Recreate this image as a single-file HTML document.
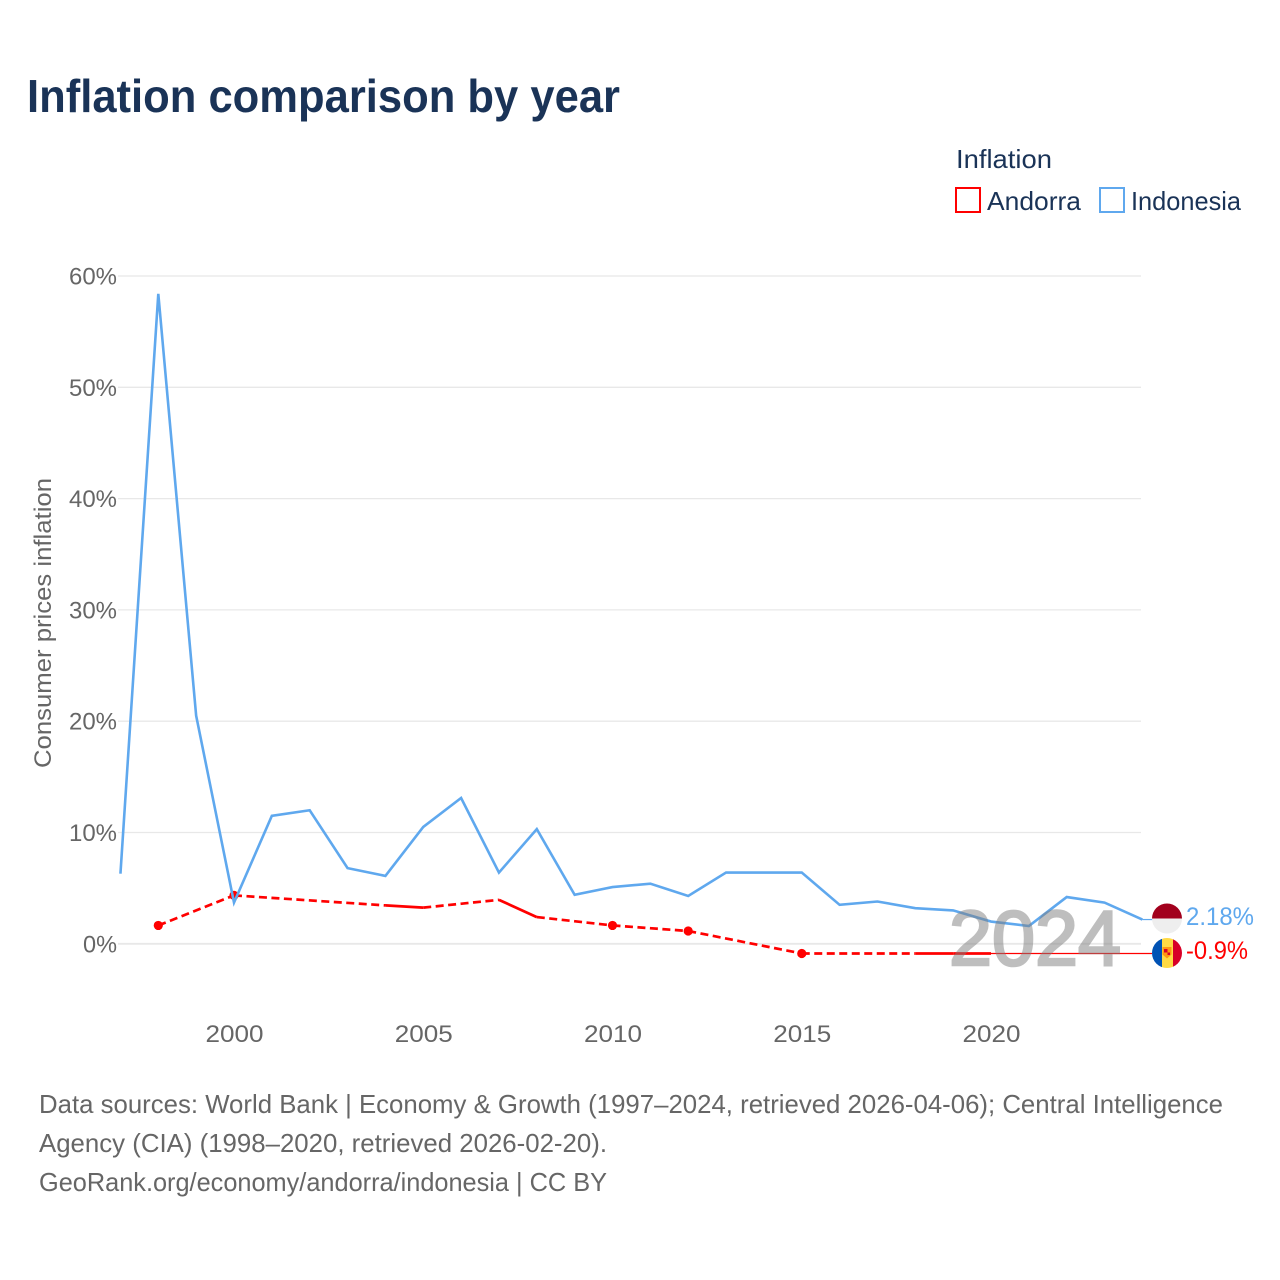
<!DOCTYPE html>
<html lang="en">
<head>
<meta charset="utf-8">
<title>Inflation comparison by year</title>
<style>
html,body{margin:0;padding:0;background:#fff;}
svg{display:block;font-family:"Liberation Sans",sans-serif;}
</style>
</head>
<body>
<svg id="chart" xmlns="http://www.w3.org/2000/svg" width="1280" height="1280" viewBox="0 0 1280 1280">
  <rect x="0" y="0" width="1280" height="1280" fill="#ffffff"/>
  <text x="27" y="112" font-size="46" font-weight="700" fill="#1a3357" textLength="593" lengthAdjust="spacingAndGlyphs">Inflation comparison by year</text>

  <g>
    <text x="956" y="168" font-size="26" fill="#1a3357" textLength="96" lengthAdjust="spacingAndGlyphs">Inflation</text>
    <g>
      <rect x="956" y="188" width="24" height="24" fill="none" stroke="#ff0000" stroke-width="2"/>
      <text x="987" y="210" font-size="26" fill="#1a3357" textLength="94" lengthAdjust="spacingAndGlyphs">Andorra</text>
    </g>
    <g>
      <rect x="1100" y="188" width="24" height="24" fill="none" stroke="#5fa8ee" stroke-width="2"/>
      <text x="1131" y="210" font-size="26" fill="#1a3357" textLength="110" lengthAdjust="spacingAndGlyphs">Indonesia</text>
    </g>
  </g>

  <text transform="translate(51,768) rotate(-90)" x="0" y="0" font-size="24" fill="#666666" textLength="290" lengthAdjust="spacingAndGlyphs">Consumer prices inflation</text>

  <g id="grid"></g>
  <g id="yticks"></g>
  <g id="xticks"></g>
  <g id="series"></g>

  <g opacity="0.5">
    <text x="1035" y="965" font-size="78" text-anchor="middle" fill="#7f7f7f" stroke="#7f7f7f" stroke-width="2.6" textLength="172" lengthAdjust="spacingAndGlyphs">2024</text>
  </g>

  <defs>
    <clipPath id="clip-id"><circle cx="1167" cy="918.5" r="15"/></clipPath>
    <clipPath id="clip-ad"><circle cx="1167" cy="953" r="15"/></clipPath>
  </defs>
  <g clip-path="url(#clip-id)">
    <rect x="1152" y="903" width="30" height="15.5" fill="#a2001d"/>
    <rect x="1152" y="918.5" width="30" height="15.5" fill="#eeeeee"/>
  </g>
  <g clip-path="url(#clip-ad)">
    <rect x="1152" y="938" width="10" height="30" fill="#0052b4"/>
    <rect x="1162" y="938" width="11" height="30" fill="#ffda44"/>
    <rect x="1173" y="938" width="9" height="30" fill="#d80027"/>
    <path d="M1162.5 947h9v7.5l-4.5 4l-4.5-4z" fill="#ff9811"/>
    <rect x="1164" y="949" width="3.5" height="3.5" fill="#d80027"/>
    <rect x="1167.5" y="952.5" width="2.5" height="2.5" fill="#d80027"/>
  </g>

  <text id="label-id" x="1186" y="925" font-size="25" fill="#5fa8ee" textLength="68" lengthAdjust="spacingAndGlyphs"></text>
  <text id="label-ad" x="1186" y="959" font-size="25" fill="#ff0000" textLength="62" lengthAdjust="spacingAndGlyphs"></text>

  <g>
    <text x="39" y="1113" font-size="26" fill="#666666" textLength="1184" lengthAdjust="spacingAndGlyphs">Data sources: World Bank | Economy &amp; Growth (1997–2024, retrieved 2026-04-06); Central Intelligence</text>
    <text x="39" y="1152" font-size="26" fill="#666666" textLength="568" lengthAdjust="spacingAndGlyphs">Agency (CIA) (1998–2020, retrieved 2026-02-20).</text>
    <text x="39" y="1191" font-size="26" fill="#666666" textLength="568" lengthAdjust="spacingAndGlyphs">GeoRank.org/economy/andorra/indonesia | CC BY</text>
  </g>
</svg>
<script>
const yTickValues = [0, 10, 20, 30, 40, 50, 60];
const xTickYears = [2000, 2005, 2010, 2015, 2020];
const indonesiaYears = [1997,1998,1999,2000,2001,2002,2003,2004,2005,2006,2007,2008,2009,2010,2011,2012,2013,2014,2015,2016,2017,2018,2019,2020,2021,2022,2023,2024];
const indonesiaValues = [6.3,58.4,20.5,3.7,11.5,12.0,6.8,6.1,10.5,13.1,6.4,10.3,4.4,5.1,5.4,4.3,6.4,6.4,6.4,3.5,3.8,3.2,3.0,2.0,1.6,4.2,3.7,2.18];
const andorraYears = [1998,2000,2004,2005,2007,2008,2010,2012,2015,2018,2019,2020];
const andorraValues = [1.65,4.35,3.45,3.25,3.95,2.4,1.65,1.15,-0.87,-0.87,-0.87,-0.87];
const indonesiaLabel = "2.18%";
const andorraLabel = "-0.9%";

const NS = "http://www.w3.org/2000/svg";
const xScale = function (year) { return 234 + (year - 2000) * 37.85; };
const yScale = function (value) { return 943.8 - value * 11.13; };

function make(tag, attrs, parent) {
  const el = document.createElementNS(NS, tag);
  Object.keys(attrs).forEach(function (k) { el.setAttribute(k, attrs[k]); });
  parent.appendChild(el);
  return el;
}

const grid = document.getElementById("grid");
const yticks = document.getElementById("yticks");
const xticks = document.getElementById("xticks");
const series = document.getElementById("series");

yTickValues.forEach(function (v) {
  const line = make("line", {x1: 118, x2: 1141, y1: yScale(v), y2: yScale(v), stroke: "#e8e8e8", "stroke-width": v === 0 ? 1.8 : 1.3}, grid);
  
  
  const label = v + "%";
  const t = make("text", {x: 117, y: yScale(v) + 8.5, "font-size": 24.5, fill: "#666666", "text-anchor": "end", textLength: v === 0 ? 34 : 48, lengthAdjust: "spacingAndGlyphs"}, yticks);
  
  
  t.textContent = label;
});

xTickYears.forEach(function (y) {
  const t = make("text", {x: xScale(y) + 0.5, y: 1042, "font-size": 24.5, fill: "#666666", "text-anchor": "middle", textLength: 58, lengthAdjust: "spacingAndGlyphs"}, xticks);
  
  
  t.textContent = y;
});

// Andorra: solid between consecutive years, dashed across gaps, dots on isolated points
const lastAdIndex = andorraYears.length - 1;
const leaderAd = make("line", {x1: xScale(andorraYears[lastAdIndex]), x2: 1152, y1: yScale(andorraValues[lastAdIndex]), y2: yScale(andorraValues[lastAdIndex]), stroke: "#ff0000", "stroke-width": 1.2}, series);



andorraYears.forEach(function (year, i) {
  const prevAdjacent = i > 0 && andorraYears[i - 1] === year - 1;
  const nextAdjacent = i < lastAdIndex && andorraYears[i + 1] === year + 1;
  if (!prevAdjacent && !nextAdjacent) {
    const dot = make("circle", {cx: xScale(year), cy: yScale(andorraValues[i]), r: 4.6, fill: "#ff0000"}, series);
    
    
  }
  if (i < lastAdIndex) {
    const attrs = {x1: xScale(year), y1: yScale(andorraValues[i]), x2: xScale(andorraYears[i + 1]), y2: yScale(andorraValues[i + 1]), stroke: "#ff0000", "stroke-width": 2.7};
    if (!nextAdjacent) { attrs["stroke-dasharray"] = "8 4.5"; }
    const seg = make("line", attrs, series);
    
    
  }
});

// Indonesia line
const idPoints = indonesiaYears.map(function (year, i) {
  return xScale(year).toFixed(2) + "," + yScale(indonesiaValues[i]).toFixed(2);
}).join(" ");
const idLine = make("polyline", {points: idPoints, fill: "none", stroke: "#5fa8ee", "stroke-width": 2.6, "stroke-linejoin": "miter"}, series);



const lastId = indonesiaYears.length - 1;
const leaderId = make("line", {x1: xScale(indonesiaYears[lastId]), x2: 1153, y1: yScale(indonesiaValues[lastId]), y2: yScale(indonesiaValues[lastId]), stroke: "#5fa8ee", "stroke-width": 1.2}, series);



document.getElementById("label-id").textContent = indonesiaLabel;
document.getElementById("label-ad").textContent = andorraLabel;
</script>
</body>
</html>
